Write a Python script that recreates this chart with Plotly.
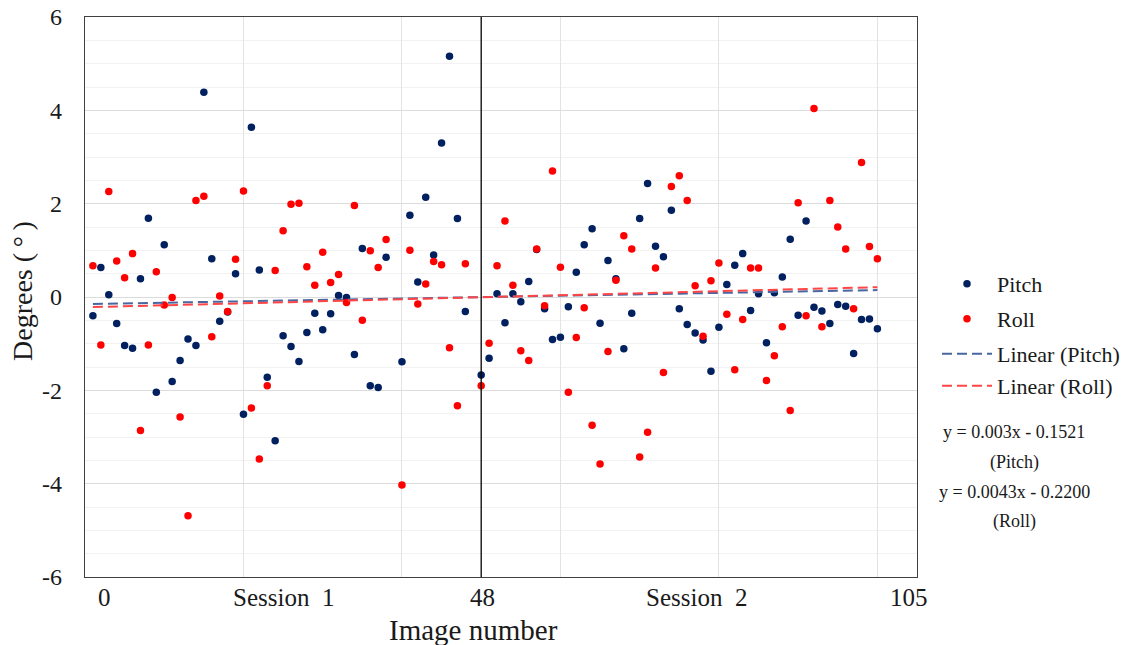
import plotly.graph_objects as go

# ---- data ----
image_number = [1, 2, 3, 4, 5, 6, 7, 8, 9, 10,
                11, 12, 13, 14, 15, 16, 17, 18, 19, 20,
                21, 22, 23, 24, 25, 26, 27, 28, 29, 30,
                31, 32, 33, 34, 35, 36, 37, 38,
                40, 41, 42, 43, 44, 45, 46, 47, 48,
                50, 51, 52, 53, 54, 55, 56, 57, 58, 59, 60,
                61, 62, 63, 64, 65, 66, 67, 68, 69, 70,
                71, 72, 73, 74, 75, 76, 77, 78, 79, 80,
                81, 82, 83, 84, 85, 86, 87, 88, 89, 90,
                91, 92, 93, 94, 95, 96, 97, 98, 99, 100]

pitch = [-0.40, 0.63, 0.05, -0.57, -1.04, -1.10, 0.39, 1.69, -2.04, 1.12,
         -1.81, -1.36, -0.90, -1.04, 4.39, 0.82, -0.52, -0.32, 0.50, -2.51,
         3.64, 0.58, -1.72, -3.08, -0.83, -1.06, -1.38, -0.76, -0.35, -0.70,
         -0.36, 0.03, -0.01, -1.23, 1.04, -1.90, -1.94, 0.85,
         -1.39, 1.75, 0.32, 2.14, 0.90, 3.30, 5.16, 1.68, -0.31,
         -1.67, -1.31, 0.07, -0.55, 0.07, -0.10, 0.33, 1.02, -0.25, -0.91, -0.86,
         -0.21, 0.53, 1.12, 1.46, -0.56, 0.78, 0.39, -1.11, -0.35, 1.68,
         2.43, 1.09, 0.86, 1.86, -0.25, -0.59, -0.77, -0.92, -1.59, -0.65,
         0.27, 0.68, 0.93, -0.29, 0.07, -0.98, 0.09, 0.43, 1.24, -0.39,
         1.63, -0.22, -0.30, -0.57, -0.16, -0.20, -1.21, -0.48, -0.47, -0.68]

roll = [0.67, -1.03, 2.26, 0.77, 0.41, 0.93, -2.86, -1.03, 0.54, -0.17,
        -0.01, -2.57, -4.69, 2.07, 2.16, -0.85, 0.02, -0.31, 0.81, 2.27,
        -2.38, -3.47, -1.90, 0.57, 1.42, 1.99, 2.01, 0.65, 0.25, 0.96,
        0.31, 0.48, -0.12, 1.96, -0.50, 0.99, 0.63, 1.23,
        -4.03, 1.00, -0.15, 0.28, 0.76, 0.69, -1.09, -2.33, 0.71,
        -1.90, -0.99, 0.67, 1.63, 0.25, -1.15, -1.36, 1.03, -0.19, 2.70, 0.64,
        -2.04, -0.87, -0.23, -2.75, -3.58, -1.17, 0.36, 1.31, 1.03, -3.43,
        -2.90, 0.62, -1.62, 2.37, 2.60, 2.07, 0.24, -0.84, 0.35, 0.73,
        -0.37, -1.56, -0.48, 0.62, 0.62, -1.79, -1.26, -0.64, -2.43, 2.02,
        -0.40, 4.04, -0.64, 2.07, 1.50, 1.03, -0.25, 2.88, 1.08, 0.82]

# trend line coefficients (as printed on chart)
pitch_slope, pitch_intercept = 0.003, -0.1521
roll_slope, roll_intercept = 0.0043, -0.2200

x_tick_labels = ["0", "Session  1", "48", "Session  2", "105"]
x_tick_pos = [2.5, 25, 50.2, 77.2, 104]
y_tick_vals = [-6, -4, -2, 0, 2, 4, 6]
y_tick_text = ["-6", "-4", "-2", "0", "2", "4", "6"]
session_divider = 50

FONT = "Liberation Serif, Times New Roman, serif"
TXT = "#1a1a1a"
PITCH_C = "#002060"
ROLL_C = "#FF0000"

# page body has an 8px margin: compensate so plot area sits where the reference has it
W, H = 1127, 637
ML, MT, MR, MB = 77, 9, 218, 68
PLOT_W, PLOT_H = 832, 560


def px_to_paper_y(py):
    return (577 - py) / PLOT_H


def px_to_paper_x(px):
    return (px - 85) / PLOT_W


x_end = [image_number[0], image_number[-1]]

fig = go.Figure()
fig.add_trace(go.Scatter(x=image_number, y=pitch, mode="markers", name="Pitch",
                         marker=dict(color=PITCH_C, size=7.5), legend="legend"))
fig.add_trace(go.Scatter(x=image_number, y=roll, mode="markers", name="Roll",
                         marker=dict(color=ROLL_C, size=7.5), legend="legend2"))
fig.add_trace(go.Scatter(x=x_end, y=[pitch_slope * v + pitch_intercept for v in x_end],
                         mode="lines", name="Linear (Pitch)",
                         line=dict(color="#4A66A0", width=2, dash="10px,5px"), legend="legend3"))
fig.add_trace(go.Scatter(x=x_end, y=[roll_slope * v + roll_intercept for v in x_end],
                         mode="lines", name="Linear (Roll)",
                         line=dict(color="#FF4545", width=2, dash="10px,5px"), legend="legend4"))

fig.add_shape(type="line", x0=session_divider, x1=session_divider, y0=0, y1=1,
              xref="x", yref="paper", line=dict(color="black", width=1.3), layer="above")

for lab, pos in zip(x_tick_labels, x_tick_pos):
    fig.add_annotation(x=pos, y=px_to_paper_y(597), xref="x", yref="paper", text=lab, showarrow=False,
                       font=dict(family=FONT, size=25, color=TXT), yanchor="middle")

fig.add_annotation(x=px_to_paper_x(473), y=px_to_paper_y(630), xref="paper", yref="paper",
                   text="Image number", showarrow=False,
                   font=dict(family=FONT, size=29, color=TXT), yanchor="middle")
fig.add_annotation(x=px_to_paper_x(22), y=px_to_paper_y(291), xref="paper", yref="paper",
                   text="Degrees (\u2009°\u2009)", textangle=-90, showarrow=False,
                   font=dict(family=FONT, size=28, color=TXT), xanchor="center", yanchor="middle")

eq_lines = ["y = 0.003x - 0.1521", "(Pitch)", "y = 0.0043x - 0.2200", "(Roll)"]
eq_y = [432, 462, 492, 521]
for t, py in zip(eq_lines, eq_y):
    fig.add_annotation(x=px_to_paper_x(1014), y=px_to_paper_y(py), xref="paper", yref="paper",
                       text=t, showarrow=False, font=dict(family=FONT, size=18, color=TXT),
                       xanchor="center", yanchor="middle")

legend_common = dict(xanchor="left", yanchor="middle", itemwidth=50,
                     font=dict(family=FONT, size=22, color=TXT),
                     bgcolor="rgba(0,0,0,0)", borderwidth=0)
leg_x = px_to_paper_x(937)
leg_y = [284, 319, 354, 386]

fig.update_layout(
    width=W, height=H,
    margin=dict(l=ML, r=MR, t=MT, b=MB, autoexpand=False),
    paper_bgcolor="white", plot_bgcolor="white",
    font=dict(family=FONT, size=18, color=TXT),
    showlegend=True,
    legend=dict(x=leg_x, y=px_to_paper_y(leg_y[0]), **legend_common),
    legend2=dict(x=leg_x, y=px_to_paper_y(leg_y[1]), **legend_common),
    legend3=dict(x=leg_x, y=px_to_paper_y(leg_y[2]), **legend_common),
    legend4=dict(x=leg_x, y=px_to_paper_y(leg_y[3]), **legend_common),
    xaxis=dict(range=[0, 105], showticklabels=False, ticks="", dtick=20, tick0=0,
               showgrid=True, gridcolor="#E3E3E3", gridwidth=1, zeroline=False,
               showline=True, linecolor="#404040", linewidth=1.3, mirror=True),
    yaxis=dict(range=[-6, 6], tickvals=y_tick_vals, ticktext=y_tick_text,
               showgrid=True, gridcolor="#DCDCDC", gridwidth=1.3,
               zeroline=False, showline=True, linecolor="#404040", linewidth=1.3, mirror=True,
               tickfont=dict(family=FONT, size=24, color=TXT), ticks="", ticklabelstandoff=17,
               ticklabeloverflow="allow",
               minor=dict(dtick=0.5, showgrid=True, gridcolor="#F2F2F2", gridwidth=1)),
)

fig.write_html("out.html")
